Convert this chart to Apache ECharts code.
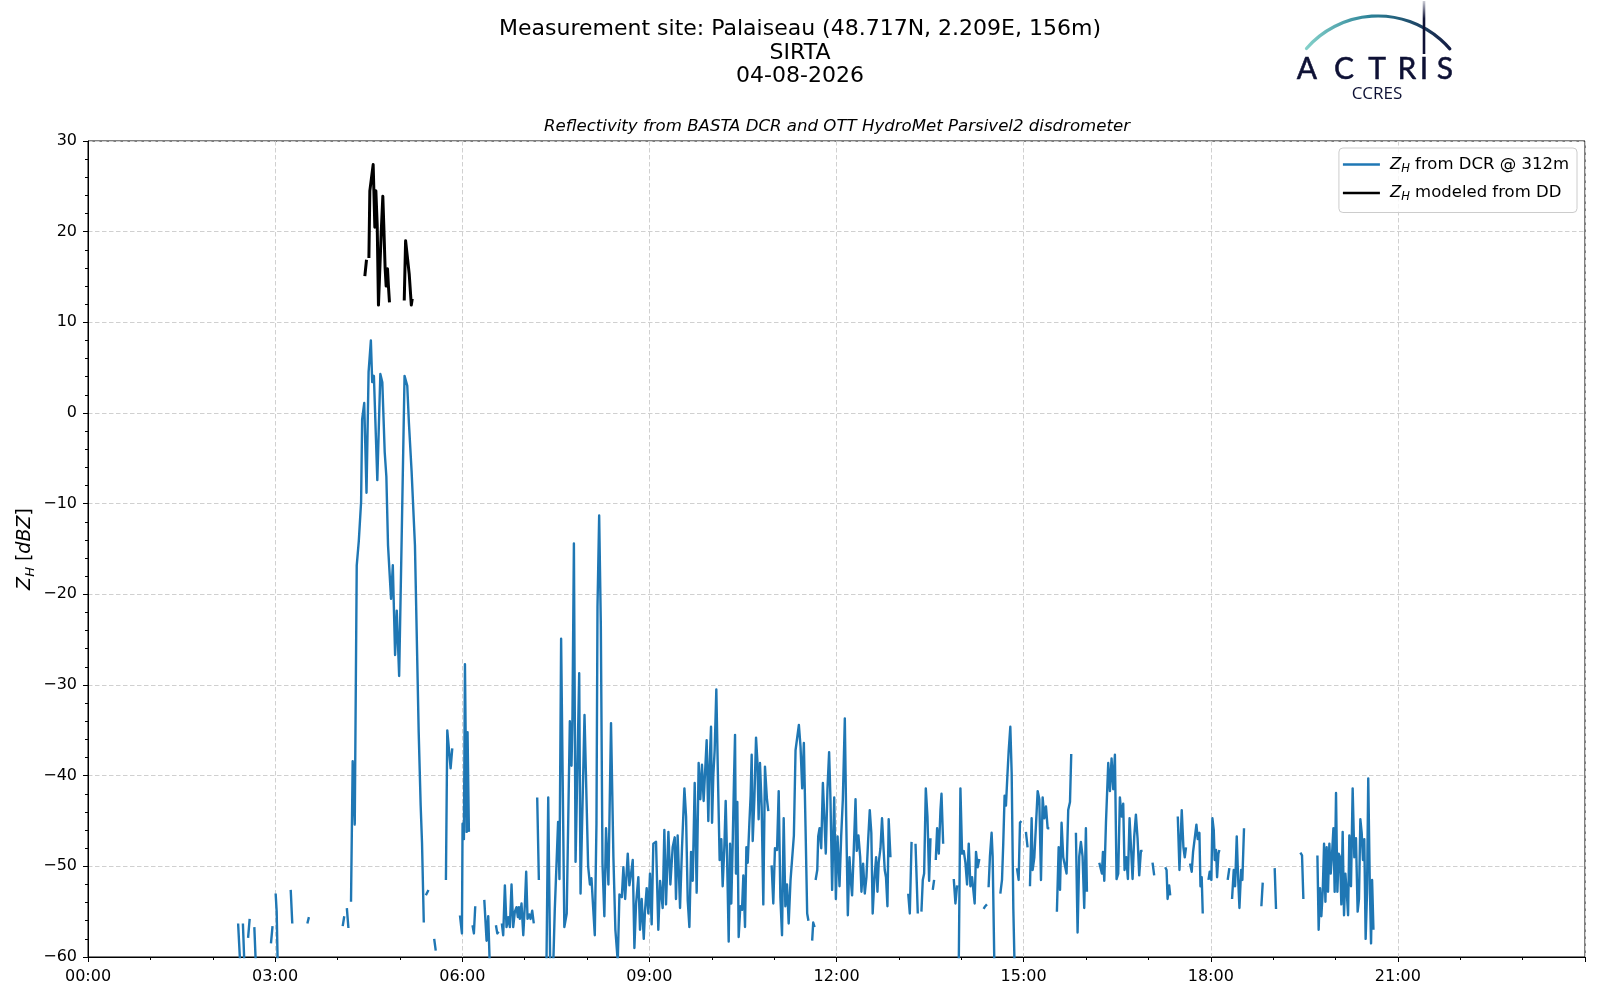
<!DOCTYPE html>
<html>
<head>
<meta charset="utf-8">
<title>SIRTA reflectivity</title>
<script src="https://cdn.jsdelivr.net/npm/echarts@6/dist/echarts.min.js"></script>
<style>
  html, body { margin: 0; padding: 0; background: #fff; }
  #chart { width: 1600px; height: 1000px; }
</style>
</head>
<body>
<div id="chart"></div>
<script>
// time in minutes since 00:00, reflectivity in dBZ; each inner list is one unbroken piece of line
var dcrEarly = [
    [[144.4, -56.3], [146.5, -61]],
    [[149, -56.3], [150.5, -61]],
    [[154, -57.9], [155.5, -55.8]],
    [[160, -56.7], [161.5, -61]],
    [[176, -58.5], [177.5, -56.6]],
    [[180.5, -53], [181.5, -55], [182.5, -61]],
    [[195, -52.6], [196.5, -56.3]],
    [[211, -56.3], [212.5, -55.6]],
    [[245, -56.6], [246.5, -55.5]],
    [[249, -54.6], [250.5, -56.8]],
    [[253, -53.9], [254.6, -38.4], [255.5, -38.6], [256.6, -45.4], [258.5, -16.8], [260.5, -14.1], [262.7, -9.8],
        [263.7, -0.7], [265.7, 1.1], [267.9, -8.8], [269.9, 4.5], [272.1, 8.0], [273.4, 3.4], [275, 4.1],
        [278.3, -7.4], [281.2, 4.3], [283.1, 3.4], [285.4, -4.3], [287, -7], [288.6, -14.6], [291.5, -20.5],
        [293.2, -16.8], [295.4, -26.7], [297, -21.8], [299.3, -29], [301.6, -14.6], [304.5, 4.1], [307.1, 3],
        [308.7, -1.1], [311.3, -6.5], [314.5, -14.6], [318.1, -35.2], [320, -43.3], [321.3, -47.4], [323, -56.2]],
    [[325, -53.2], [327.5, -52.6]],
    [[333, -58], [334.5, -59.3]],
    [[344.3, -51.5], [345.6, -35], [346.9, -34.8], [348.8, -39.2], [350.4, -37]],
    [[357.8, -55.4], [359.7, -57.4], [360.3, -45.3], [361.6, -47], [362.6, -27.7], [364.2, -46.2], [365.1, -35.2], [366.4, -46.2]],
    [[369.9, -56.5], [371.2, -57.4], [372.5, -54.4]],
    [[381.2, -53.7], [383.4, -58.2], [385, -55.5], [386.5, -61]],
    [[392.4, -56.5], [393.7, -57.4], [395, -57.2]],
    [[398.1, -56.3], [399.4, -57.6], [401, -52.1], [402.6, -56.7], [404.2, -55.6], [405.8, -56.7], [407.4, -52],
        [409, -56.7], [410.6, -55], [412.2, -54.5], [413.5, -55.6], [414.5, -54.5], [415.4, -55.8], [417, -54.1],
        [418.7, -57.6], [420.3, -54.1], [421.5, -50.6], [422.8, -55.8], [424.4, -55.3], [425.7, -55.8],
        [427.3, -54.9], [428.8, -56.3]],
    [[432.1, -42.4], [433.7, -51.5]],
    [[441, -61], [442.7, -42.4], [444.6, -61]]
];

var dcrMidday = [
    [[447.5, -61], [449, -54.8], [450.6, -54.9], [452.2, -45.1], [453.5, -51.4], [455.1, -24.9], [458.2, -56.7],
        [460.5, -55.2], [463.5, -34], [465.1, -38.9], [466, -33.5], [467.4, -14.4], [469, -49.5], [470.6, -49.3],
        [472.5, -28.7], [473.8, -53], [475.4, -53], [477.6, -33.3], [479.5, -33.3], [481.1, -50], [482.8, -52],
        [484.3, -51.3], [485.9, -54.5], [487.5, -57.6], [489.1, -45.3], [490.1, -21.4], [491.7, -11.3],
        [493.3, -23.3], [494.9, -49.7], [496.7, -55.5], [498.3, -45.8], [500.6, -52], [503.1, -34.2],
        [505.4, -49], [507.3, -57], [509.6, -60.5], [511.2, -53.1], [513.5, -53.4], [515, -50.1], [516.7, -53.6],
        [519.2, -48.6], [520.8, -52.1], [522.4, -50.8], [524, -49.3], [525.6, -59], [527.2, -54.1], [529.4, -51.2],
        [531, -57], [532.6, -53.6], [534.6, -58], [535.8, -54.9], [537.4, -52.4], [539, -55.2], [540.6, -50.8],
        [542.2, -56.4], [543.8, -47.5], [546.4, -47.3], [548.6, -57], [550.3, -51.6], [552.8, -54.6], [554.4, -46],
        [556, -54.2], [558.3, -46.2], [560.2, -52], [562.4, -47.9], [564.4, -46.8], [565.6, -53.6], [567.2, -46.6],
        [569.5, -54.6], [571.4, -47.9], [573.7, -41.4], [575.3, -44.5], [576.9, -53.8], [578.5, -56.7],
        [580.1, -48.4], [581.7, -51.6], [583.6, -40.8], [585.5, -52.9], [587.4, -38.6], [589, -42.6],
        [590.6, -38.8], [592.2, -42.8], [593.5, -43], [595.1, -36.1], [596.7, -45], [597.7, -39.5], [599.3, -34.6],
        [600.3, -45.2], [601.5, -40], [602.8, -37.2], [604.4, -30.5], [606, -40.4], [607.6, -49.3], [609.2, -47],
        [610.5, -52.2], [612.1, -47.9], [613.4, -42.8], [614.7, -48.8], [616.3, -58.3], [617.6, -47.5],
        [618.8, -54.1], [620.1, -47.7], [621.4, -40.4], [622.4, -35.5], [623.3, -50.8], [624.6, -42.9],
        [625.9, -57.8], [627.5, -54.4], [629.1, -54.8], [630.4, -51], [632, -56.7], [633.3, -47.9], [634.6, -49.6],
        [636.2, -45.2], [637.4, -42.2], [638.4, -37.7], [639.4, -47.2], [641, -42.6], [642.6, -35.8],
        [643.9, -38.4], [645.1, -44.8], [646.4, -38.6], [648, -43.4], [649.6, -54.2], [651.2, -39], [653.1, -42.6],
        [654.4, -43.9]],
    [[657.6, -49.9], [659.2, -54.1], [660.8, -48], [662.8, -48.2], [664.4, -41.7], [666, -53.4], [667.6, -57.6],
        [669.2, -44.7], [670.8, -54.4], [672.4, -52], [674, -56.3], [675.8, -51.5], [677.4, -51.3], [679, -46.6],
        [680.6, -37.2], [682.2, -37.4], [683.8, -34.4], [685.4, -36.8], [687, -41.4], [688.6, -36.4],
        [690.2, -45.6], [691.8, -55.2], [693, -56]],
    [[696.6, -58.2], [697.6, -56.2], [698.9, -56.7]],
    [[699.9, -51.5], [701.5, -50.4], [702.4, -46.7], [703.7, -45.8], [705.3, -48], [706.9, -40.8], [708.1, -44.1],
        [709.7, -48.6], [711.3, -41.5], [712.9, -37.4], [714.2, -42.6], [715.8, -52.6], [717.8, -42.4],
        [719.4, -53.6], [721, -46.7], [722.9, -52.2], [724.5, -46.7], [726.1, -42.6], [728, -33.7], [729.3, -44.5],
        [730.9, -55.4], [732.5, -49], [733.8, -51.6], [735, -53.2], [736.7, -47.9], [738.3, -42.6], [739.5, -48.3],
        [741.1, -46.6], [742.8, -49], [744, -52.8], [745.6, -49.7], [747.2, -53], [748.8, -51.2], [750.4, -47.2],
        [752, -43.8], [753.5, -46.3], [754.8, -55.2], [756.4, -51.5], [758.1, -49], [759.4, -52.8], [760.6, -49.6],
        [762.3, -48], [763.8, -44.7], [765.2, -47.9], [766.4, -50.4], [767.6, -51.2], [769, -54.4],
        [770.2, -44.8], [771.9, -49]],
    [[789, -53], [790.5, -55.2], [792.2, -47.3]],
    [[796, -47.5], [798.2, -55.2]],
    [[801.7, -55], [803, -51.5], [804.3, -50.8], [805.9, -41.4], [807.5, -44.5], [809.1, -51.6], [810.4, -46.9]],
    [[812.6, -52.6], [813.9, -51.5]],
    [[815.5, -49.3], [816.8, -45.8], [818.4, -48.6], [820, -43.8], [821, -42], [822.6, -47.5]],
    [[832.8, -51.4], [834.4, -54.1], [836, -52.1]],
    [[837.6, -61], [839.2, -41.4], [840.8, -48.6], [842.4, -48.3], [844, -49.6], [845.6, -52], [847.2, -47.5],
        [848.8, -52.2], [850.4, -51.2], [852.9, -54.1], [854.2, -48.4], [855.8, -50.1], [857.4, -49.2]],
    [[861.5, -54.7], [863.1, -54.4], [864.7, -54.2]],
    [[866.3, -52.3], [867.6, -48.9], [869.2, -46.3], [870.2, -48.9], [871.8, -60.5]],
    [[877.6, -53], [879.2, -51.5], [880.4, -47.5], [881.7, -42.2], [883, -43.3], [884.3, -40.2], [885.6, -37.3],
        [887.2, -34.6], [888.5, -39.7], [890.1, -54.7], [891.3, -61]],
    [[893.6, -50.2], [895.2, -51.5], [896.5, -45.2], [897.8, -45]],
    [[902.2, -46.2], [903.8, -47.9]],
    [[906.1, -52.2], [907.7, -44.7], [908.7, -50.4], [910.3, -49], [911.9, -45.4], [913.5, -41.7], [915.1, -42.6],
        [916.7, -51.5], [918.3, -42.4], [919.9, -44.7], [921.5, -43.4], [923.1, -45.8], [924.7, -45.8]]
];

var dcrAfternoon = [
    [[932, -55], [933.7, -47.9], [935, -52.6], [936.5, -45.2], [938.1, -49], [939.7, -49.2], [941.3, -50.8],
        [942.9, -43.8], [944.6, -42.9], [945.8, -37.6]],
    [[950.3, -46.3], [951.9, -57.3], [953.5, -48.9], [955.1, -47.3], [956.7, -48.9], [958.3, -54.6],
        [959.9, -45.8], [960.9, -52.8]],
    [[972.8, -49.6], [974.4, -49.6], [975.3, -50.8], [976.3, -48.4], [977.6, -51.6], [979.2, -45.2],
        [981.4, -38.6], [983, -41.7], [984.6, -38.1], [986.2, -41.5], [987.8, -37.7], [989.4, -51.4], [991, -50.8],
        [992.6, -42.4], [994.2, -44.5], [995.8, -43.1], [997.1, -50.4], [998.7, -49], [1000.3, -51.4],
        [1001.9, -44.7], [1003.2, -44.5], [1004.8, -51.4], [1006.4, -46.7], [1008, -44.3], [1009.6, -46.9],
        [1011.2, -51], [1012.8, -48.3], [1014.4, -48.3]],
    [[1024, -49.6], [1025.6, -51]],
    [[1036.2, -50.1], [1037.5, -50.4], [1038.5, -53.6], [1040, -52.1], [1041, -53.2]],
    [[1048.3, -44.5], [1049.9, -50.4], [1052.1, -43.8], [1053.7, -47.9], [1055, -49], [1056.2, -47.9]],
    [[1060.1, -49.7], [1061.7, -50.6], [1063, -48.4], [1064.6, -48.6], [1066.2, -45.4], [1067.5, -47],
        [1069.1, -46.3], [1070.1, -52.2], [1071.3, -51.2], [1072.3, -55.2]],
    [[1077.8, -51.5], [1079, -50.6], [1080.6, -51.5], [1081.6, -44.7], [1082.9, -46], [1083.8, -49.3],
        [1085.1, -48.2], [1086.1, -51.2], [1087.4, -48.6], [1088.3, -48.2]],
    [[1096.3, -51.5], [1097.9, -50.2]],
    [[1100.5, -53.6], [1102.1, -50.4], [1103.4, -52.2], [1105, -46.7], [1106.3, -51.2], [1107.6, -54.6],
        [1109.2, -50.4], [1110.4, -51.5], [1112, -45.8]],
    [[1128.7, -54.4], [1130, -51.8]],
    [[1141.5, -50.2], [1142.8, -54.7]],
    [[1166.2, -48.5], [1167.8, -48.8], [1169.1, -53.6]],
    [[1182.6, -48.8], [1183.8, -57], [1185.1, -52.4], [1186.4, -55.5], [1187.7, -52.8], [1189, -47.5],
        [1190.3, -53.9], [1191.5, -47.9], [1192.8, -52.8], [1194.1, -47.5], [1195.4, -50.8], [1196.7, -48.6],
        [1198, -45.8], [1199.2, -52.8], [1200.5, -41.9], [1201.8, -52.8], [1203.1, -48.6], [1204.4, -49],
        [1205.6, -54.2], [1206.9, -46.2], [1208.2, -55.4], [1209.5, -50.8], [1210.8, -52.8], [1212.1, -55.4],
        [1213.3, -46.6], [1214.9, -52.2], [1216.5, -41.4], [1218.1, -49], [1219.7, -46.9], [1221.3, -55],
        [1222.6, -53.6], [1223.9, -44.8], [1225.2, -46.3], [1226.4, -49.3], [1227.7, -47], [1229, -58],
        [1230.3, -53], [1231.5, -40.3], [1233, -52], [1234.2, -58.5], [1235.2, -51.5], [1236.5, -57]]
];

var ddZh = [
    [[266.3, 15.1], [267.9, 16.9]],
    [[270.2, 17.1], [271.1, 24.5], [272.7, 24.5], [274.3, 27.4], [275, 24.5], [275.9, 20.5], [276.9, 24.5],
        [278.2, 20.7], [279.4, 11.9], [280.7, 12.1], [282, 19.8], [283.6, 23.9], [284.5, 20.8], [285.8, 16],
        [286.8, 14], [288.1, 15.9], [289, 14], [290, 12.2]],
    [[304.2, 12.4], [305.5, 19], [307.4, 19], [309, 15.3], [311, 11.9], [311.9, 12.6]]
];

var xTicks = ['00:00', '03:00', '06:00', '09:00', '12:00', '15:00', '18:00', '21:00'];

var FONT = 'DejaVu Sans';
var NAVY = '#0e1135';

// glue the pieces together, a null point breaks the line
function withGaps(pieces) {
    var out = [];
    for (var i = 0; i < pieces.length; i++) {
        var seg = pieces[i];
        for (var j = 0; j < seg.length; j++) {
            out.push(seg[j]);
        }
        out.push([seg[seg.length - 1][0] + 0.05, null]);
    }
    return out;
}

var dcrData = withGaps(dcrEarly.concat(dcrMidday, dcrAfternoon));
var ddData = withGaps(ddZh);

var chart = echarts.init(document.getElementById('chart'), null, {renderer: 'canvas'});

var zRich = {
    z: {fontFamily: FONT, fontStyle: 'italic', fontSize: 16.5, color: '#000', lineHeight: 21, verticalAlign: 'middle'},
    s: {fontFamily: FONT, fontStyle: 'italic', fontSize: 11.5, color: '#000', lineHeight: 14, verticalAlign: 'bottom'},
    t: {fontFamily: FONT, fontSize: 16.5, color: '#000', lineHeight: 21, verticalAlign: 'middle'}
};

var logo = [
    {
        type: 'arc',
        shape: {cx: 1378, cy: 111, r: 95, startAngle: 3.86, endAngle: 5.57, clockwise: true},
        style: {
            fill: null,
            lineWidth: 3.2,
            lineCap: 'round',
            stroke: new echarts.graphic.LinearGradient(0, 0, 1, 0, [
                {offset: 0, color: '#86d3cb'},
                {offset: 0.45, color: '#2b8197'},
                {offset: 1, color: '#141a42'}
            ])
        }
    },
    {
        type: 'line',
        shape: {x1: 1424, y1: 1, x2: 1424, y2: 54},
        style: {
            lineWidth: 2.6,
            stroke: new echarts.graphic.LinearGradient(0, 0, 0, 1, [
                {offset: 0, color: 'rgba(20,26,66,0.1)'},
                {offset: 0.35, color: NAVY},
                {offset: 1, color: NAVY}
            ])
        }
    }
];
var letters = [['A', 1307], ['C', 1344], ['T', 1377], ['R', 1407], ['I', 1424], ['S', 1445]];
letters.forEach(function (l) {
    logo.push({
        type: 'text',
        x: l[1], y: 69,
        style: {
            text: l[0], fill: NAVY, fontFamily: 'Lato', fontSize: 30,
            align: 'center', verticalAlign: 'middle', textAlign: 'center', textVerticalAlign: 'middle',
            stroke: NAVY, lineWidth: 0.5
        }
    });
});
logo.push({
    type: 'text',
    x: 1377, y: 94,
    style: {
        text: 'CCRES', fill: NAVY, fontFamily: 'Open Sans', fontSize: 17,
        align: 'center', verticalAlign: 'middle', textAlign: 'center', textVerticalAlign: 'middle'
    }
});

chart.setOption({
    animation: false,
    backgroundColor: '#fff',
    title: {
        text: 'Measurement site: Palaiseau (48.717N, 2.209E, 156m)\nSIRTA\n04-08-2026',
        left: 'center',
        top: 18,
        padding: 0,
        textStyle: {fontFamily: FONT, fontSize: 22, fontWeight: 'normal', color: '#000', lineHeight: 23.5}
    },
    graphic: logo.concat([
        {
            type: 'text',
            x: 837, y: 127,
            style: {
                text: 'Reflectivity from BASTA DCR and OTT HydroMet Parsivel2 disdrometer',
                fill: '#000', fontFamily: FONT, fontStyle: 'italic', fontSize: 16.6,
                align: 'center', verticalAlign: 'middle', textAlign: 'center', textVerticalAlign: 'middle'
            }
        },
        {
            type: 'text',
            x: 25, y: 549,
            rotation: Math.PI / 2,
            style: {
                text: '{z|Z}{s|H}{t| [}{z|dBZ}{t|]}',
                align: 'center', verticalAlign: 'middle', textAlign: 'center', textVerticalAlign: 'middle',
                rich: {
                    z: {fontFamily: FONT, fontStyle: 'italic', fontSize: 19, fill: '#000', lineHeight: 24, verticalAlign: 'middle'},
                    s: {fontFamily: FONT, fontStyle: 'italic', fontSize: 13, fill: '#000', lineHeight: 16, verticalAlign: 'bottom'},
                    t: {fontFamily: FONT, fontSize: 19, fill: '#000', lineHeight: 24, verticalAlign: 'middle'}
                }
            }
        }
    ]),
    legend: {
        orient: 'vertical',
        right: 23,
        top: 148,
        padding: [8, 8, 9, 4],
        itemGap: 9.5,
        itemWidth: 37,
        itemHeight: 2.6,
        icon: 'rect',
        backgroundColor: 'rgba(255,255,255,0.8)',
        borderColor: '#cccccc',
        borderWidth: 1,
        borderRadius: 4,
        data: ['dcr', 'dd'],
        formatter: function (name) {
            return name === 'dcr'
                ? '{z|Z}{s|H}{t| from DCR @ 312m}'
                : '{z|Z}{s|H}{t| modeled from DD}';
        },
        textStyle: {rich: zRich, padding: [0, 0, 0, 5]}
    },
    grid: {
        left: 88,
        right: 15,
        top: 141,
        bottom: 43,
        show: true,
        borderColor: '#000',
        borderWidth: 1,
        containLabel: false
    },
    xAxis: {
        type: 'value',
        min: 0,
        max: 1440,
        interval: 180,
        axisLine: {show: true, onZero: false, lineStyle: {color: '#000', width: 1}},
        axisTick: {show: true, length: 5, lineStyle: {color: '#000'}},
        minorTick: {show: true, splitNumber: 3, length: 3, lineStyle: {color: '#000'}},
        axisLabel: {
            fontFamily: FONT, fontSize: 16, color: '#000', margin: 12,
            showMaxLabel: false,
            formatter: function (v) {
                return xTicks[v / 180] || '';
            }
        },
        splitLine: {show: true, lineStyle: {color: '#d0d0d0', type: [4.5, 2.5], width: 1}}
    },
    yAxis: {
        type: 'value',
        min: -60,
        max: 30,
        interval: 10,
        axisLine: {show: true, onZero: false, lineStyle: {color: '#000', width: 1}},
        axisTick: {show: true, length: 5, lineStyle: {color: '#000'}},
        minorTick: {show: true, splitNumber: 5, length: 3, lineStyle: {color: '#000'}},
        axisLabel: {
            fontFamily: FONT, fontSize: 16, color: '#000', margin: 11,
            formatter: function (v) {
                return v < 0 ? '\u2212' + Math.abs(v) : String(v);
            }
        },
        splitLine: {show: true, lineStyle: {color: '#d0d0d0', type: [4.5, 2.5], width: 1}}
    },
    series: [
        {
            name: 'dcr',
            type: 'line',
            data: dcrData,
            symbol: 'none',
            connectNulls: false,
            clip: true,
            color: '#1f77b4',
            lineStyle: {color: '#1f77b4', width: 2.4, join: 'round'},
            z: 3
        },
        {
            name: 'dd',
            type: 'line',
            data: ddData,
            symbol: 'none',
            connectNulls: false,
            clip: true,
            color: '#000',
            lineStyle: {color: '#000', width: 3, join: 'round'},
            z: 4
        }
    ]
});
</script>
</body>
</html>
